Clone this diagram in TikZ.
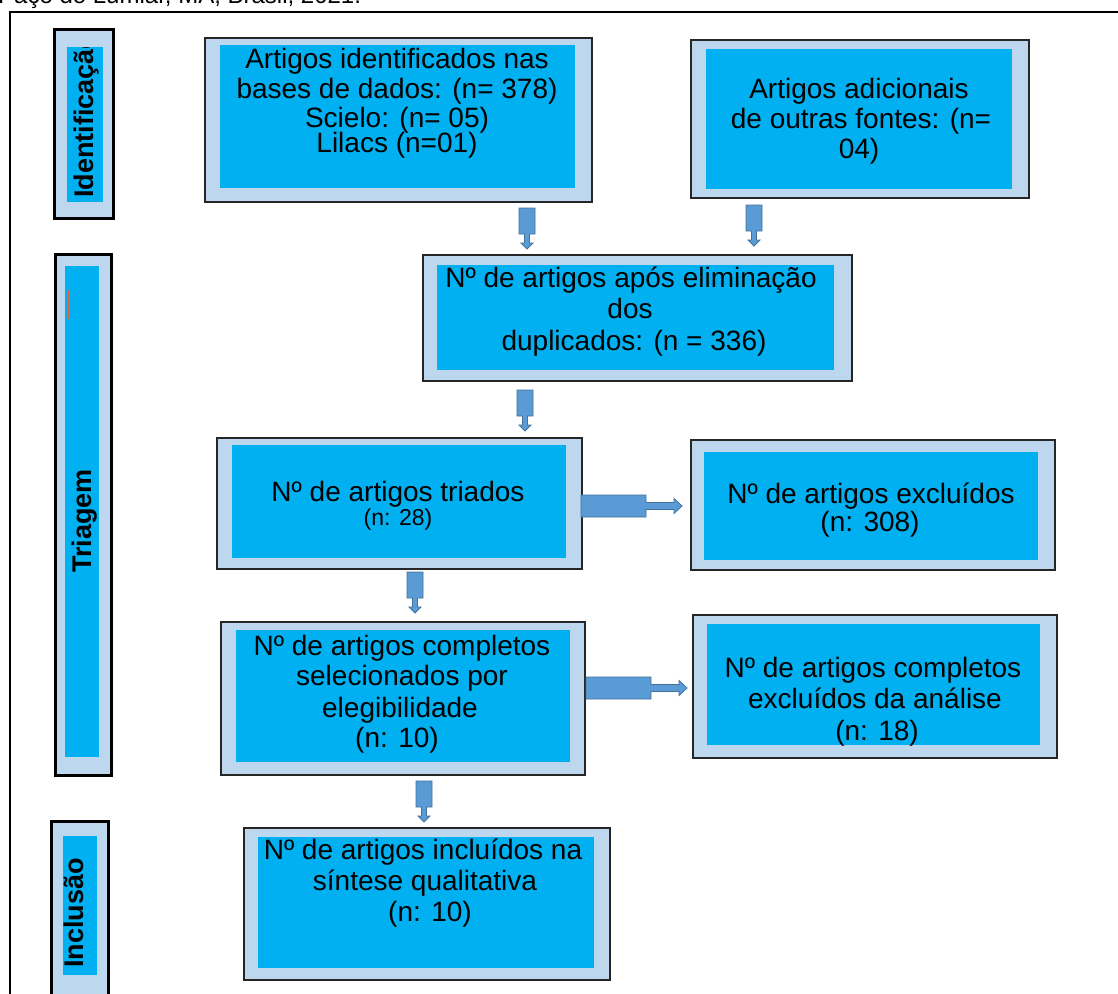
\documentclass[tikz,border=0pt]{standalone}
\usepackage{fontspec}
\setmainfont{Liberation Sans}
\usetikzlibrary{fit}
\definecolor{lightbox}{HTML}{BDD7EE}
\definecolor{cyanbox}{HTML}{00B0F0}
\definecolor{arrfill}{HTML}{5B9BD5}
\definecolor{arrdraw}{HTML}{41719C}
\definecolor{orangeline}{HTML}{E0653A}
\begin{document}
\begin{tikzpicture}[x=1pt,y=-1pt,
  outerbox/.style={draw=black!85, line width=1.4pt, fill=lightbox, inner sep=0pt, fit={#1}},
  sidebox/.style={draw=black, line width=3pt, fill=lightbox, inner sep=0pt, fit={#1}},
  innerbox/.style={fill=cyanbox, inner sep=0pt, fit={#1}},
  txt/.style={font=\fontsize{28}{30}\selectfont, anchor=base, inner sep=0pt},
  smalltxt/.style={font=\fontsize{23}{26}\selectfont, anchor=base, inner sep=0pt},
  sidetxt/.style={font=\fontsize{27}{30}\selectfont\bfseries, inner sep=0pt, rotate=90},
  arrstyle/.style={fill=arrfill, draw=arrdraw, line width=0.8pt, line join=miter},
  downarr/.pic={\draw[arrstyle] (-8,0) -- (8,0) -- (8,26) -- (2.5,26) -- (2.5,35) -- (6,35) -- (0,41) -- (-6,35) -- (-2.5,35) -- (-2.5,26) -- (-8,26) -- cycle;},
  rightarr/.pic={\draw[arrstyle] (0,-11) -- (65,-11) -- (65,-3.5) -- (93,-3.5) -- (93,-7.5) -- (101,0) -- (93,7.5) -- (93,3.5) -- (65,3.5) -- (65,11) -- (0,11) -- cycle;}
]
\useasboundingbox (0,0) rectangle (1118,993);

% caption fragment at top
\node[font=\fontsize{24}{26}\selectfont, anchor=base west, inner sep=0pt] (cap) at (-2,4) {Paço do Lumiar, MA, Brasil, 2021.};

% outer frame
\draw[line width=2pt] (10,1000) -- (10,12) -- (1125,12);

% side labels
\node[sidebox={(54,29) (113,218)}] (idO) {};
\node[innerbox={(67,47) (103,202)}] (idI) {};
\begin{scope}
  \clip (67,47) rectangle (103,202);
  \node[sidetxt, anchor=base west] (idT) at (93,198) {Identificação};
\end{scope}

\node[sidebox={(55,254) (111,775)}] (trO) {};
\node[innerbox={(65,266) (99,757)}] (trI) {};
\draw[orangeline, line width=2pt] (68,290) -- (68,319);
\node[sidetxt, anchor=base] (trT) at (91,521) {Triagem};

\node[sidebox={(51,821) (108,998)}] (inO) {};
\node[innerbox={(63,836) (97,975)}] (inI) {};
\node[sidetxt, anchor=base west] (inT) at (83,968) {Inclusão};

% Box A
\node[outerbox={(205,38) (592,202)}] (A) {};
\node[innerbox={(220,45) (575,188)}] (Ai) {};
\node[txt] (A1) at (397,68) {Artigos identificados nas};
\node[txt] (A2) at (397,98) {bases de dados: (n= 378)};
\node[txt] (A3) at (397,127) {Scielo: (n= 05)};
\node[txt] (A4) at (397,152) {Lilacs (n=01)};

% Box B
\node[outerbox={(691,40) (1029,198)}] (B) {};
\node[innerbox={(706,49) (1012,189)}] (Bi) {};
\node[txt] (B1) at (859,98) {Artigos adicionais};
\node[txt] (B2) at (861,128) {de outras fontes: (n=};
\node[txt] (B3) at (859,158) {04)};

% Box C
\node[outerbox={(423,255) (852,381)}] (C) {};
\node[innerbox={(437,265) (834,370)}] (Ci) {};
\node[txt] (C1) at (631,287) {Nº de artigos após eliminação};
\node[txt] (C2) at (630,318) {dos};
\node[txt] (C3) at (634,350) {duplicados: (n = 336)};

% Box D
\node[outerbox={(217,438) (582,569)}] (D) {};
\node[innerbox={(232,445) (566,558)}] (Di) {};
\node[txt] (D1) at (398,501) {Nº de artigos triados};
\node[smalltxt] (D2) at (398,525) {(n: 28)};

% Box E
\node[outerbox={(691,440) (1055,570)}] (E) {};
\node[innerbox={(704,452) (1038,560)}] (Ei) {};
\node[txt] (E1) at (871,503) {Nº de artigos excluídos};
\node[txt] (E2) at (870,531) {(n: 308)};

% Box F
\node[outerbox={(221,622) (585,775)}] (F) {};
\node[innerbox={(236,630) (570,762)}] (Fi) {};
\node[txt] (F1) at (402,655) {Nº de artigos completos};
\node[txt] (F2) at (402,685) {selecionados por};
\node[txt] (F3) at (400,717) {elegibilidade};
\node[txt] (F4) at (397,747) {(n: 10)};

% Box G
\node[outerbox={(693,615) (1057,758)}] (G) {};
\node[innerbox={(707,624) (1040,745)}] (Gi) {};
\node[txt] (G1) at (873,677) {Nº de artigos completos};
\node[txt] (G2) at (875,708) {excluídos da análise};
\node[txt] (G3) at (877,740) {(n: 18)};

% Box H
\node[outerbox={(244,828) (610,980)}] (H) {};
\node[innerbox={(258,837) (594,968)}] (Hi) {};
\node[txt] (H1) at (423,859) {Nº de artigos incluídos na};
\node[txt] (H2) at (425,890) {síntese qualitativa};
\node[txt] (H3) at (430,921) {(n: 10)};

% block arrows
\pic at (527,208) {downarr};
\pic at (754,205) {downarr};
\pic at (525,390) {downarr};
\pic at (415,572) {downarr};
\pic at (424,781) {downarr};
\pic at (581,506) {rightarr};
\pic at (586,688) {rightarr};
\end{tikzpicture}
\end{document}
